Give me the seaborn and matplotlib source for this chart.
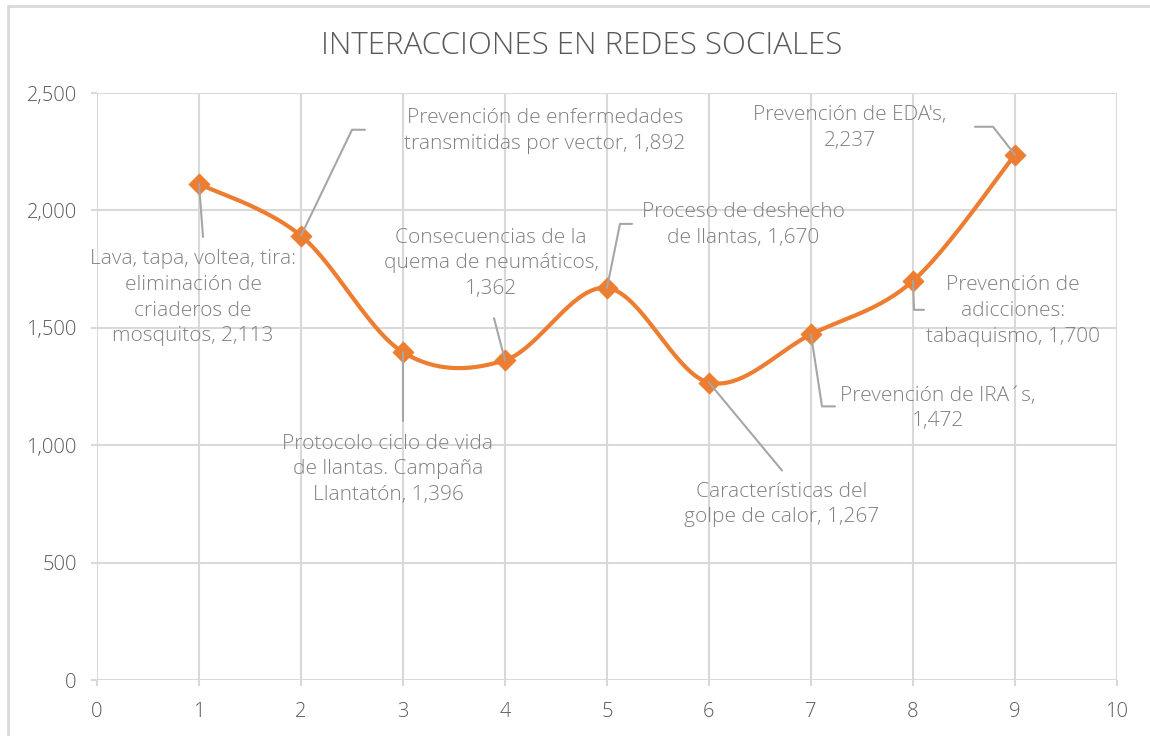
import seaborn as sns
import matplotlib.pyplot as plt
import numpy as np
from matplotlib.ticker import FuncFormatter
from matplotlib.lines import Line2D

# Interacciones por campaña
x_vals = [1, 2, 3, 4, 5, 6, 7, 8, 9]
interacciones = [2113, 1892, 1396, 1362, 1670, 1267, 1472, 1700, 2237]
campanas = [
    "Lava, tapa, voltea, tira:\neliminación de\ncriaderos de\nmosquitos",
    "Prevención de enfermedades\ntransmitidas por vector",
    "Protocolo ciclo de vida\nde llantas. Campaña\nLlantatón",
    "Consecuencias de la\nquema de neumáticos,\n",
    "Proceso de deshecho\nde llantas",
    "Características del\ngolpe de calor",
    "Prevención de IRA´s,\n",
    "Prevención de\nadicciones:\ntabaquismo",
    "Prevención de EDA's,\n",
]

# label placement: text centre offset and leader path, in pixels (down = +)
text_off = [(-6, 114), (244, -105), (-15, 117), (-14, -97), (136, -63),
            (73, 122), (127, 74), (100, 30), (-165, -27)]
leaders = [[(0, 0), (4, 53)],
           [(0, 0), (51, -106), (64, -106)],
           [(0, 0), (0, 69)],
           [(0, 0), (-11, -42)],
           [(0, 0), (13, -64), (25, -64)],
           [(0, 0), (73, 88)],
           [(0, 0), (11, 72), (24, 72)],
           [(0, 0), (1, 29), (11, 29)],
           [(0, 0), (-22, -28), (-40, -28)]]

ORANGE = "#ED7D31"
GRID = "#d9d9d9"

sns.set_theme(style="white")
plt.rcParams["font.family"] = ["Open Sans", "DejaVu Sans"]
plt.rcParams["font.weight"] = "light"

fig = plt.figure(figsize=(11.5, 7.36), dpi=100)
ax = fig.add_axes([97 / 1150, 56 / 736, 1020 / 1150, 587 / 736])


def catmull_rom(xs, ys, n=40):
    pts = np.column_stack([xs, ys]).astype(float)
    pts = np.vstack([pts[0], pts, pts[-1]])
    out = []
    for i in range(1, len(pts) - 2):
        p0, p1, p2, p3 = pts[i - 1], pts[i], pts[i + 1], pts[i + 2]
        c1 = p1 + (p2 - p0) / 6
        c2 = p2 - (p3 - p1) / 6
        t = np.linspace(0, 1, n)[:, None]
        seg = ((1 - t) ** 3) * p1 + 3 * ((1 - t) ** 2) * t * c1 + 3 * (1 - t) * t ** 2 * c2 + t ** 3 * p2
        out.append(seg if i == 1 else seg[1:])
    out = np.vstack(out)
    return out[:, 0], out[:, 1]


sx, sy = catmull_rom(x_vals, interacciones)
sns.lineplot(x=sx, y=sy, sort=False, color=ORANGE, linewidth=3, ax=ax, zorder=3)
sns.scatterplot(x=x_vals, y=interacciones, marker="D", s=110, color=ORANGE,
                edgecolor=ORANGE, ax=ax, zorder=4)

ax.set_xlim(0, 10)
ax.set_ylim(0, 2500)
ax.set_xticks(range(0, 11))
ax.set_yticks(range(0, 2501, 500))
ax.yaxis.set_major_formatter(FuncFormatter(lambda v, p: f"{int(v):,}"))
ax.grid(True, color=GRID, linewidth=1.5)
ax.set_axisbelow(True)
for s in ax.spines.values():
    s.set_visible(False)
ax.tick_params(axis="both", length=4.5, width=1.5, color=GRID, labelcolor="#595959",
               labelsize=14.5, direction="out")
ax.tick_params(axis="x", pad=11)
ax.tick_params(axis="y", pad=10)
ax.tick_params(bottom=True, left=True)
ax.set_xlabel("")
ax.set_ylabel("")

fig.text(582 / 1150, 1 - 46 / 736, "INTERACCIONES EN REDES SOCIALES", ha="center", va="center",
         fontsize=22.5, color="#595959", fontweight="light")

# leader lines and data labels, placed in pixel space
fig.canvas.draw()
H = 736
for xv, yv, name, toff, path in zip(x_vals, interacciones, campanas, text_off, leaders):
    px, py = ax.transData.transform((xv, yv))
    lx = [px + dx for dx, dy in path]
    ly = [py - dy for dx, dy in path]
    fig.add_artist(Line2D(lx, ly, transform=None, color="#a6a6a6", linewidth=1.5, zorder=2))
    label = f"{name}{yv:,}" if name.endswith("\n") else f"{name}, {yv:,}"
    fig.text((px + toff[0]) / 1150, (py - toff[1]) / H, label, ha="center", va="center",
             fontsize=15, color="#808080", fontweight="light", linespacing=1.38, zorder=5)

# outer chart border
fig.add_artist(Line2D([8 / 1150, 8 / 1150], [0, 1 - 6 / 736], transform=fig.transFigure,
                      color=GRID, linewidth=2))
fig.add_artist(Line2D([8 / 1150, 1], [1 - 6 / 736, 1 - 6 / 736], transform=fig.transFigure,
                      color=GRID, linewidth=2))

fig.savefig("out.png", dpi=100)
